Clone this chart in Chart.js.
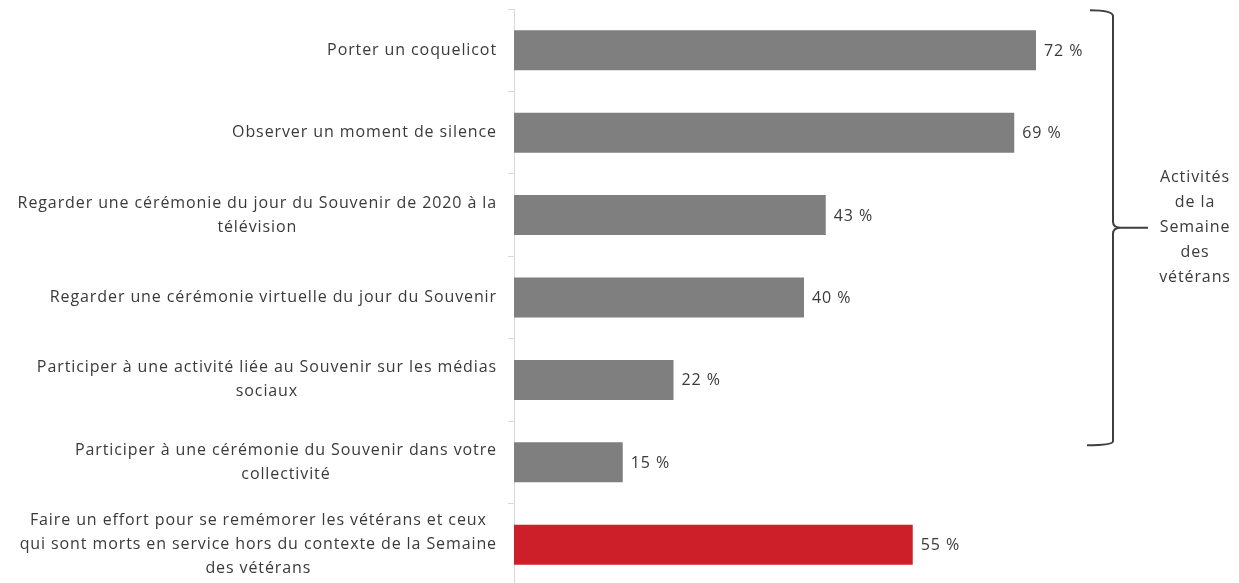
<!DOCTYPE html>
<html>
<head>
<meta charset="utf-8">
<script src="https://cdn.jsdelivr.net/npm/chart.js@4/dist/chart.umd.min.js"></script>
<style>
  html, body { margin: 0; padding: 0; background: #fff; overflow: hidden; }
  #wrap { position: relative; width: 1239px; height: 586px; }
</style>
</head>
<body>
<div id="wrap"><canvas id="chart"></canvas></div>
<script>
// data
const categories = [
    ['Porter un coquelicot'],
    ['Observer un moment de silence'],
    ['Regarder une cérémonie du jour du Souvenir de 2020 à la', 'télévision'],
    ['Regarder une cérémonie virtuelle du jour du Souvenir'],
    ['Participer à une activité liée au Souvenir sur les médias', 'sociaux'],
    ['Participer à une cérémonie du Souvenir dans votre', 'collectivité'],
    ['Faire un effort pour se remémorer les vétérans et ceux', 'qui sont morts en service hors du contexte de la Semaine', 'des vétérans']
]
const values = [72, 69, 43, 40, 22, 15, 55]
const inWeek = [true, true, true, true, true, true, false]
const groupLabel = ['Activités', 'de la', 'Semaine', 'des', 'vétérans']

const GRAY = '#7f7f7f'
const RED = '#cc1f2a'
const TEXT = '#3a3a3a'
const FONT = '16px "Open Sans", sans-serif'
const SPACING = '0.9px'

// category labels: block right aligned to the axis, lines centered inside it
const catLabels = {
    id: 'catLabels',
    afterDraw(chart) {
        const ctx = chart.ctx
        const y = chart.scales.y
        const right = chart.chartArea.left - 17
        const lh = 24
        ctx.save()
        ctx.font = FONT
        ctx.letterSpacing = SPACING
        ctx.fillStyle = TEXT
        ctx.textAlign = 'center'
        ctx.textBaseline = 'middle'
        categories.forEach((lines, i) => {
            const w = Math.max(...lines.map(l => ctx.measureText(l).width))
            const cx = right - w / 2
            const cy = y.getPixelForValue(i)
            lines.forEach((l, k) => {
                ctx.fillText(l, cx, cy + (k - (lines.length - 1) / 2) * lh)
            })
        })
        ctx.restore()
    }
}

// value labels at the end of each bar
const valueLabels = {
    id: 'valueLabels',
    afterDatasetsDraw(chart) {
        const ctx = chart.ctx
        const meta = chart.getDatasetMeta(0)
        ctx.save()
        ctx.font = FONT
        ctx.letterSpacing = SPACING
        ctx.fillStyle = TEXT
        ctx.textAlign = 'left'
        ctx.textBaseline = 'middle'
        meta.data.forEach((bar, i) => {
            ctx.fillText(values[i] + ' %', bar.x + 8, bar.y + 1)
        })
        ctx.restore()
    }
}

// curly brace grouping the week activities
const brace = {
    id: 'brace',
    afterDraw(chart) {
        const ctx = chart.ctx
        const y = chart.scales.y
        const x = 1113
        const top = y.getPixelForValue(0) - 40
        const bottom = y.getPixelForValue(inWeek.lastIndexOf(true)) - 17
        const mid = (top + bottom) / 2
        ctx.save()
        ctx.strokeStyle = '#3f3f3f'
        ctx.lineWidth = 2
        ctx.beginPath()
        ctx.moveTo(x - 23, top)
        ctx.quadraticCurveTo(x, top, x, top + 6)
        ctx.lineTo(x, mid - 6)
        ctx.quadraticCurveTo(x, mid, x + 8, mid)
        ctx.lineTo(x + 35, mid)
        ctx.moveTo(x + 8, mid)
        ctx.quadraticCurveTo(x, mid, x, mid + 6)
        ctx.lineTo(x, bottom - 4)
        ctx.quadraticCurveTo(x, bottom, x - 26, bottom)
        ctx.stroke()

        ctx.font = FONT
        ctx.letterSpacing = SPACING
        ctx.fillStyle = TEXT
        ctx.textAlign = 'center'
        ctx.textBaseline = 'middle'
        groupLabel.forEach((l, k) => {
            ctx.fillText(l, 1195, mid + (k - (groupLabel.length - 1) / 2) * 25)
        })
        ctx.restore()
    }
}

const data = {
    labels: categories,
    datasets: [{
        data: values,
        backgroundColor: values.map((v, i) => inWeek[i] ? GRAY : RED),
        borderWidth: 0,
        categoryPercentage: 1,
        barPercentage: 0.485
    }]
}

const config = {
    type: 'bar',
    data: data,
    options: {
        indexAxis: 'y',
        responsive: true,
        maintainAspectRatio: false,
        animation: false,
        layout: { padding: { top: 9, right: 0, bottom: 0, left: 0 } },
        plugins: {
            legend: { display: false },
            tooltip: { enabled: false }
        },
        scales: {
            x: {
                display: false,
                min: 0,
                max: 100
            },
            y: {
                ticks: { display: false },
                grid: {
                    drawOnChartArea: false,
                    drawTicks: true,
                    tickLength: 6,
                    color: '#d9d9d9'
                },
                border: { display: true, color: '#d9d9d9', width: 1 },
                afterFit(scale) { scale.width = 514 }
            }
        }
    },
    plugins: [catLabels, valueLabels, brace]
}

let ctx = document.querySelector('#chart').getContext('2d')
const myChart = new Chart(ctx, config)
</script>
</body>
</html>
